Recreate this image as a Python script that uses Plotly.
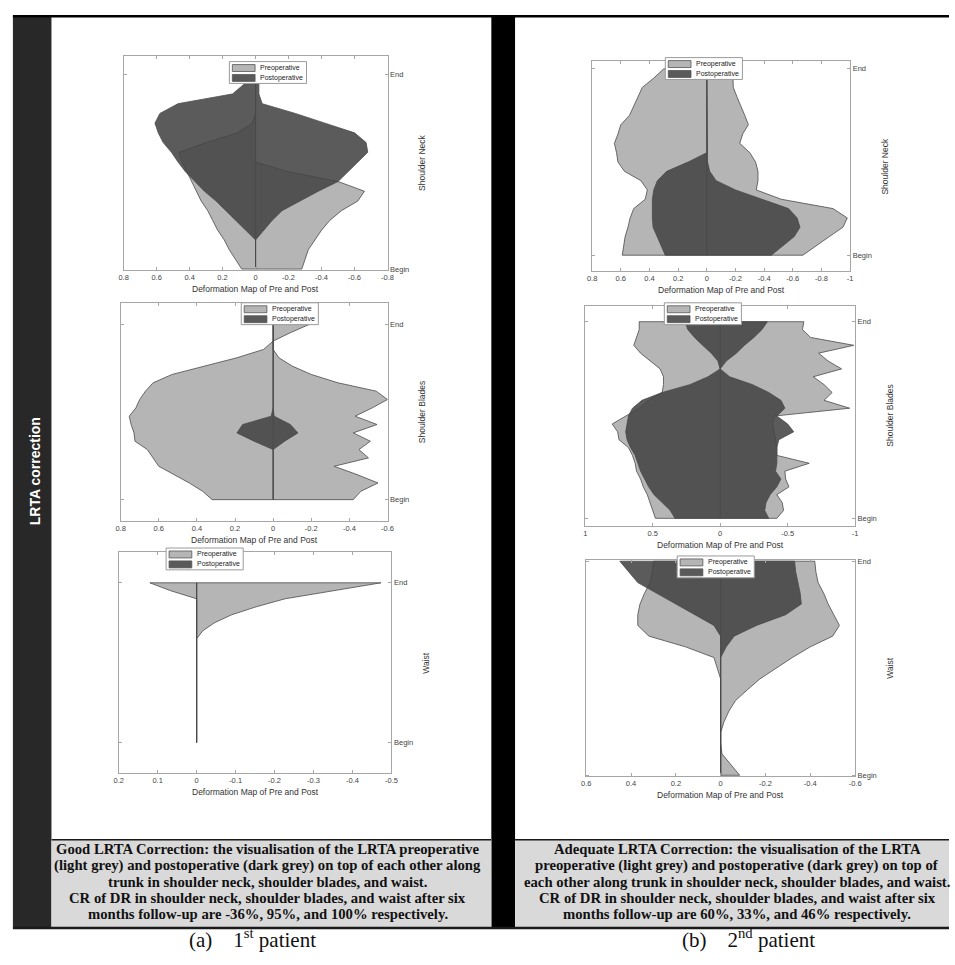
import plotly.graph_objects as go

W, H = 955, 965

# ---------------- data (x = deformation, levels Begin..End) ----------------
# Patient 1 - shoulder neck
p1_neck_levels = list(range(21))
p1_neck_pre_left = [0.084, 0.12, 0.16, 0.19, 0.23, 0.26, 0.29, 0.33, 0.36, 0.39, 0.42, 0.445, 0.465, 0.30, 0.11, 0.02, 0, 0, 0, 0, 0]
p1_neck_pre_right = [-0.28, -0.30, -0.32, -0.36, -0.40, -0.45, -0.52, -0.62, -0.66, -0.50, -0.20, 0, 0, 0, 0, 0, 0, 0, 0, 0, 0]
p1_neck_post_left = [0, 0, 0, 0, 0.06, 0.12, 0.18, 0.24, 0.31, 0.37, 0.425, 0.47, 0.51, 0.56, 0.59, 0.61, 0.58, 0.47, 0.14, 0.07, 0]
p1_neck_post_right = [0, 0, 0, 0, -0.05, -0.10, -0.16, -0.27, -0.38, -0.50, -0.56, -0.62, -0.68, -0.67, -0.60, -0.42, -0.24, -0.04, -0.02, -0.02, 0]

# Patient 1 - shoulder blades
p1_blades_levels = list(range(22))
p1_blades_pre_left = [0.32, 0.37, 0.44, 0.52, 0.60, 0.63, 0.66, 0.725, 0.73, 0.745, 0.755, 0.72, 0.70, 0.67, 0.63, 0.53, 0.36, 0.19, 0.05, 0, 0, 0]
p1_blades_pre_right = [-0.42, -0.46, -0.55, -0.44, -0.32, -0.50, -0.45, -0.51, -0.42, -0.545, -0.43, -0.52, -0.60, -0.54, -0.34, -0.20, -0.10, -0.03, 0, 0, -0.09, -0.19]
p1_blades_post_left = [0, 0, 0, 0, 0, 0, 0, 0.10, 0.19, 0.16, 0.01, 0, 0, 0, 0, 0, 0, 0, 0, 0, 0, 0]
p1_blades_post_right = [0, 0, 0, 0, 0, 0, 0, -0.06, -0.13, -0.09, -0.005, 0, 0, 0, 0, 0, 0, 0, 0, 0, 0, 0]

# Patient 1 - waist
p1_waist_levels = list(range(21))
p1_waist_pre_left = [0, 0, 0, 0, 0, 0, 0, 0, 0, 0, 0, 0, 0, 0, 0, 0, 0, 0, 0, 0.066, 0.12]
p1_waist_pre_right = [0, 0, 0, 0, 0, 0, 0, 0, 0, 0, 0, 0, 0, 0, -0.016, -0.046, -0.09, -0.153, -0.227, -0.35, -0.473]
p1_waist_post_left = [0] * 21
p1_waist_post_right = [0] * 21

# Patient 2 - shoulder neck
p2_neck_levels = list(range(21))
p2_neck_pre_left = [0.59, 0.58, 0.57, 0.55, 0.535, 0.51, 0.43, 0.415, 0.46, 0.575, 0.62, 0.63, 0.645, 0.62, 0.60, 0.54, 0.51, 0.48, 0.45, 0.37, 0.30]
p2_neck_pre_right = [-0.67, -0.76, -0.855, -0.95, -0.98, -0.88, -0.52, -0.345, -0.357, -0.357, -0.34, -0.30, -0.23, -0.25, -0.29, -0.265, -0.24, -0.21, -0.185, -0.18, -0.18]
p2_neck_post_left = [0.29, 0.32, 0.35, 0.375, 0.38, 0.38, 0.38, 0.37, 0.345, 0.28, 0.13, 0, 0, 0, 0, 0, 0, 0, 0, 0, 0]
p2_neck_post_right = [-0.45, -0.53, -0.61, -0.65, -0.63, -0.57, -0.38, -0.20, -0.065, -0.02, -0.005, 0, 0, 0, 0, 0, 0, 0, 0, 0, 0]

# Patient 2 - shoulder blades
p2_blades_levels = list(range(26))
p2_blades_pre_left = [0.48, 0.50, 0.52, 0.54, 0.57, 0.59, 0.62, 0.63, 0.65, 0.68, 0.75, 0.76, 0.80, 0.70, 0.60, 0.53, 0.43, 0.42, 0.42, 0.445, 0.52, 0.59, 0.64, 0.62, 0.60, 0.60]
p2_blades_pre_right = [-0.42, -0.47, -0.46, -0.42, -0.51, -0.485, -0.48, -0.66, -0.42, -0.42, -0.41, -0.40, -0.39, -0.40, -0.96, -0.77, -0.83, -0.77, -0.69, -0.90, -0.80, -0.73, -0.99, -0.67, -0.61, -0.62]
p2_blades_post_left = [0.335, 0.37, 0.43, 0.49, 0.53, 0.56, 0.59, 0.61, 0.63, 0.665, 0.69, 0.70, 0.69, 0.68, 0.65, 0.58, 0.43, 0.225, 0.09, 0, 0.017, 0.066, 0.13, 0.19, 0.24, 0.26]
p2_blades_post_right = [-0.36, -0.33, -0.34, -0.37, -0.42, -0.45, -0.41, -0.42, -0.42, -0.42, -0.435, -0.545, -0.50, -0.42, -0.48, -0.45, -0.36, -0.24, -0.07, 0, -0.045, -0.12, -0.18, -0.25, -0.31, -0.35]

# Patient 2 - waist
p2_waist_levels = list(range(21))
p2_waist_pre_left = [0, 0, 0, 0, 0, 0, 0, 0, 0, 0, 0.015, 0.03, 0.157, 0.32, 0.37, 0.37, 0.36, 0.34, 0.315, 0.305, 0.30]
p2_waist_pre_right = [-0.085, -0.045, -0.006, 0, 0, -0.015, -0.037, -0.067, -0.12, -0.175, -0.245, -0.32, -0.40, -0.50, -0.53, -0.505, -0.48, -0.46, -0.435, -0.425, -0.42]
p2_waist_post_left = [0, 0, 0, 0, 0, 0, 0, 0, 0, 0, 0, 0, 0, 0, 0.03, 0.115, 0.20, 0.28, 0.37, 0.41, 0.45]
p2_waist_post_right = [0, 0, 0, 0, 0, 0, 0, 0, 0, 0, 0, 0, -0.025, -0.06, -0.16, -0.29, -0.36, -0.355, -0.345, -0.335, -0.33]

# tick values / labels
ticks_neck1 = [0.8, 0.6, 0.4, 0.2, 0, -0.2, -0.4, -0.6, -0.8]
ticks_blades1 = [0.8, 0.6, 0.4, 0.2, 0, -0.2, -0.4, -0.6]
ticks_waist1 = [0.2, 0.1, 0, -0.1, -0.2, -0.3, -0.4, -0.5]
ticks_neck2 = [0.8, 0.6, 0.4, 0.2, 0, -0.2, -0.4, -0.6, -0.8, -1]
ticks_blades2 = [1, 0.5, 0, -0.5, -1]
ticks_waist2 = [0.6, 0.4, 0.2, 0, -0.2, -0.4, -0.6]
y_tick_labels = ["Begin", "End"]
series_names = ["Preoperative", "Postoperative"]
x_title = "Deformation Map of Pre and Post"

caption_a = ["Good LRTA Correction: the visualisation of the LRTA preoperative",
             "(light grey) and postoperative (dark grey) on top of each other along",
             "trunk in shoulder neck, shoulder blades, and waist.",
             "CR of DR in shoulder neck, shoulder blades, and waist after six",
             "months follow-up are -36%, 95%, and 100% respectively."]
caption_b = ["Adequate LRTA Correction: the visualisation of the LRTA",
             "preoperative (light grey) and postoperative (dark grey) on top of",
             "each other along trunk in shoulder neck, shoulder blades, and waist.",
             "CR of DR in shoulder neck, shoulder blades, and waist after six",
             "months follow-up are 60%, 33%, and 46% respectively."]

# ---------------- styling / layout ----------------
PRE_FILL = "#b5b5b5"
POST_FILL = "rgba(68,68,68,0.88)"
POST_SWATCH = "#5a5a5a"
EDGE = "#4a4a4a"
AXC = "#a6a6a6"
TICKF = dict(family="Liberation Sans, Arial", size=7.5, color="#444444")

panels = [
    dict(box=(120, 53, 387, 269), xr=(0.8, -0.8), xt=ticks_neck1, pad=(-0.005, 1.097), title="Shoulder Neck",
         leg=(227, 59), data=(p1_neck_levels, p1_neck_pre_left, p1_neck_pre_right, p1_neck_post_left, p1_neck_post_right)),
    dict(box=(117, 302, 387, 522), xr=(0.8, -0.6), xt=ticks_blades1, pad=(-0.123, 1.123), title="Shoulder Blades",
         leg=(239, 302), data=(p1_blades_levels, p1_blades_pre_left, p1_blades_pre_right, p1_blades_post_left, p1_blades_post_right)),
    dict(box=(115, 553, 391, 776), xr=(0.2, -0.5), xt=ticks_waist1, pad=(-0.193, 1.193), title="Waist",
         leg=(163, 549), data=(p1_waist_levels, p1_waist_pre_left, p1_waist_pre_right, p1_waist_post_left, p1_waist_post_right)),
    dict(box=(594, 58, 855, 270), xr=(0.8, -1.0), xt=ticks_neck2, pad=(-0.085, 1.044), title="Shoulder Neck",
         leg=(668, 55), data=(p2_neck_levels, p2_neck_pre_left, p2_neck_pre_right, p2_neck_post_left, p2_neck_post_right)),
    dict(box=(587, 305, 860, 527), xr=(1.0, -1.0), xt=ticks_blades2, pad=(-0.040, 1.081), title="Shoulder Blades",
         leg=(667, 302), data=(p2_blades_levels, p2_blades_pre_left, p2_blades_pre_right, p2_blades_post_left, p2_blades_post_right)),
    dict(box=(588, 561, 860, 779), xr=(0.6, -0.6), xt=ticks_waist2, pad=(-0.005, 1.006), title="Waist",
         leg=(680, 557), data=(p2_waist_levels, p2_waist_pre_left, p2_waist_pre_right, p2_waist_post_left, p2_waist_post_right)),
]


def fx(x):
    return x / W


def fy(y):
    return 1 - y / H


def tick_label(v):
    return "%g" % v


fig = go.Figure()
shapes = []
annotations = []

for k, p in enumerate(panels, start=1):
    levels, pre_l, pre_r, post_l, post_r = p["data"]
    xa = "x" if k == 1 else "x%d" % k
    ya = "y" if k == 1 else "y%d" % k
    for left, right, fill, name in ((pre_l, pre_r, PRE_FILL, series_names[0]),
                                    (post_l, post_r, POST_FILL, series_names[1])):
        xs = list(left) + list(reversed(right)) + [left[0]]
        ys = list(levels) + list(reversed(levels)) + [levels[0]]
        fig.add_trace(go.Scatter(x=xs, y=ys, mode="lines", fill="toself", fillcolor=fill,
                                 line=dict(color=EDGE, width=0.8), name=name,
                                 showlegend=False, xaxis=xa, yaxis=ya, hoverinfo="skip"))
    # centre line through zero deformation
    fig.add_trace(go.Scatter(x=[0, 0], y=[levels[0], levels[-1]], mode="lines",
                             line=dict(color=EDGE, width=1), showlegend=False,
                             xaxis=xa, yaxis=ya, hoverinfo="skip"))

    x0, y0, x1, y1 = p["box"]
    n = levels[-1] - levels[0]
    yr = [levels[0] + p["pad"][0] * n, levels[0] + p["pad"][1] * n]
    axkey = "" if k == 1 else str(k)
    fig.layout["xaxis" + axkey] = dict(
        domain=[fx(x0), fx(x1)], anchor=ya, range=list(p["xr"]),
        tickvals=p["xt"], ticktext=[tick_label(v) for v in p["xt"]],
        ticks="inside", ticklen=3, tickcolor=AXC, showline=True, linecolor=AXC, linewidth=1,
        mirror="ticks", showgrid=False, zeroline=False, tickfont=TICKF)
    fig.layout["yaxis" + axkey] = dict(
        domain=[fy(y1), fy(y0)], anchor=xa, side="right", range=yr,
        tickvals=[levels[0], levels[-1]], ticktext=y_tick_labels,
        ticks="inside", ticklen=3, tickcolor=AXC, showline=True, linecolor=AXC, linewidth=1,
        mirror="ticks", showgrid=False, zeroline=False, tickfont=TICKF)

    # axis titles
    annotations.append(dict(x=fx((x0 + x1) / 2), y=fy(y1 + 19), xref="paper", yref="paper",
                            text=x_title, showarrow=False, xanchor="center", yanchor="middle",
                            font=dict(family="Liberation Sans, Arial", size=8.5, color="#333333")))
    annotations.append(dict(x=fx(x1 + 35), y=fy((y0 + y1) / 2), xref="paper", yref="paper",
                            text=p["title"], showarrow=False, textangle=-90, xanchor="center",
                            yanchor="middle",
                            font=dict(family="Liberation Sans, Arial", size=8.5, color="#333333")))

    # legend box (drawn like the MATLAB legend)
    lx, ly = p["leg"]
    shapes.append(dict(type="rect", xref="paper", yref="paper", x0=fx(lx), x1=fx(lx + 78),
                       y0=fy(ly + 22), y1=fy(ly), fillcolor="white",
                       line=dict(color="#9a9a9a", width=1), layer="above"))
    for j, (sw, name) in enumerate(((PRE_FILL, series_names[0]), (POST_SWATCH, series_names[1]))):
        top = ly + 3 + 10 * j
        shapes.append(dict(type="rect", xref="paper", yref="paper", x0=fx(lx + 3), x1=fx(lx + 26),
                           y0=fy(top + 7), y1=fy(top), fillcolor=sw,
                           line=dict(color="#555555", width=0.8), layer="above"))
        annotations.append(dict(x=fx(lx + 29), y=fy(top + 3.5), xref="paper", yref="paper",
                                text=name, showarrow=False, xanchor="left", yanchor="middle",
                                font=dict(family="Liberation Sans, Arial", size=7, color="#222222")))

# ---------------- frame ----------------
frame = [
    dict(x0=8, x1=47, y0=13, y1=932, color="#282828"),
    dict(x0=492, x1=516, y0=13, y1=932, color="#000000"),
    dict(x0=8, x1=955, y0=12, y1=14.5, color="#000000"),
    dict(x0=47, x1=492, y0=842, y1=931, color="#d9d9d9"),
    dict(x0=516, x1=955, y0=842, y1=931, color="#d9d9d9"),
    dict(x0=47, x1=492, y0=842, y1=843.5, color="#1a1a1a"),
    dict(x0=516, x1=955, y0=842, y1=843.5, color="#1a1a1a"),
    dict(x0=8, x1=955, y0=930.5, y1=933, color="#1a1a1a"),
]
for r in frame:
    shapes.append(dict(type="rect", xref="paper", yref="paper", x0=fx(r["x0"]), x1=fx(r["x1"]),
                       y0=fy(r["y1"]), y1=fy(r["y0"]), fillcolor=r["color"], line=dict(width=0),
                       layer="above"))

annotations.append(dict(x=fx(30), y=fy(472), xref="paper", yref="paper", text="<b>LRTA correction</b>",
                        showarrow=False, textangle=-90, xanchor="center", yanchor="middle",
                        font=dict(family="Liberation Sans, Arial", size=14, color="white")))
CAPF = dict(family="Liberation Serif, Times New Roman", size=14.7, color="#111111")
for i, line in enumerate(caption_a):
    annotations.append(dict(x=fx(266), y=fy(852 + 16.5 * i), xref="paper", yref="paper",
                            text="<b>" + line + "</b>", showarrow=False, xanchor="center",
                            yanchor="middle", font=CAPF))
for i, line in enumerate(caption_b):
    annotations.append(dict(x=fx(741), y=fy(852 + 16.5 * i), xref="paper", yref="paper",
                            text="<b>" + line + "</b>", showarrow=False, xanchor="center",
                            yanchor="middle", font=CAPF))
annotations.append(dict(x=fx(250), y=fy(942), xref="paper", yref="paper",
                        text="(a)\u00a0\u00a0\u00a0 1<sup>st</sup> patient", showarrow=False,
                        xanchor="center", yanchor="middle",
                        font=dict(family="Liberation Serif, Times New Roman", size=21, color="#111111")))
annotations.append(dict(x=fx(752), y=fy(942), xref="paper", yref="paper",
                        text="(b)\u00a0\u00a0\u00a0 2<sup>nd</sup> patient", showarrow=False,
                        xanchor="center", yanchor="middle",
                        font=dict(family="Liberation Serif, Times New Roman", size=21, color="#111111")))

fig.update_layout(width=W, height=H, margin=dict(l=0, r=0, t=0, b=0),
                  paper_bgcolor="white", plot_bgcolor="white", showlegend=False,
                  shapes=shapes, annotations=annotations)

fig.write_html("out.html", config={"displayModeBar": False},
               post_script="document.body.style.margin='0';document.body.style.padding='0';"
                           "document.body.style.overflow='hidden';")
